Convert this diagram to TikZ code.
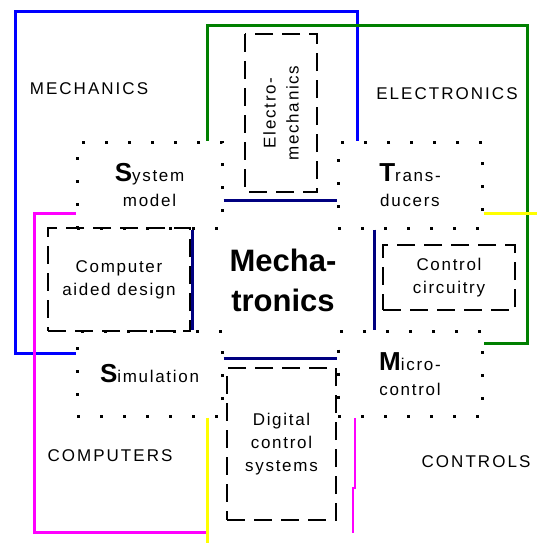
\documentclass[tikz,border=0pt]{standalone}
\usepackage{fontspec}
\setmainfont{Liberation Sans}
\newfontfamily\lsf[LetterSpace=10]{Liberation Sans}
\newfontfamily\capsf[LetterSpace=12]{Liberation Sans}
\newcommand\BigInit[1]{{\normalfont\fontsize{26}{26}\bfseries\selectfont #1}}
\definecolor{bluec}{RGB}{0,0,255}
\definecolor{greenc}{RGB}{0,128,0}
\definecolor{magc}{RGB}{255,0,255}
\definecolor{yelc}{RGB}{255,255,0}
\definecolor{navyc}{RGB}{0,0,128}
\begin{document}
\begin{tikzpicture}[x=1pt,y=-1pt,
  lbl/.style={font=\lsf\fontsize{17}{23}\selectfont, align=center},
  dotbox/.style={draw, line width=3pt, dash pattern=on 3pt off 20pt, inner sep=0pt, lbl},
  dashbox/.style={draw, line width=1.8pt, dash pattern=on 18pt off 9pt, inner sep=0pt, lbl},
  area/.style={font=\capsf\fontsize{17}{17}\selectfont, anchor=base},
  colline/.style={line width=3pt, line join=miter},
  navyline/.style={line width=3pt, draw=navyc},
]
\useasboundingbox[fill=white] (0,0) rectangle (537,543);

% helper coordinates
\coordinate (ytop) at (0,200);
\coordinate (ybot) at (0,358);
\coordinate (xl) at (192,0);
\coordinate (xr) at (374,0);
\coordinate (bTR) at (357,12);
\coordinate (bTL) at (15,12);
\coordinate (bBL) at (15,353);
\coordinate (gTL) at (207,26);
\coordinate (gTR) at (527,26);
\coordinate (gBR) at (527,343);
\coordinate (mTL) at (34,213);
\coordinate (mBL) at (34,532);
\coordinate (mBR) at (207,532);
\coordinate (yR) at (537,213);
\coordinate (yB) at (207,543);
\coordinate (pm1) at (355,488);
\coordinate (pm2) at (353,488);
\coordinate (pm3) at (353,533);

% dashed boxes
\node[dashbox, rotate=90, minimum width=158pt, minimum height=72pt] (electro) at (281,113) {Electro-\\mechanics};
\node[dashbox, minimum width=142pt, minimum height=103pt] (cad) at (119,279.5) {Computer\\aided design};
\node[dashbox, minimum width=132pt, minimum height=65pt] (ctrl) at (449,277.5) {Control\\circuitry};
\node[dashbox, minimum width=109pt, minimum height=152pt] (dcs) at (281.5,444) {Digital\\control\\systems};

% dotted boxes
\node[dotbox, minimum width=145pt, minimum height=86pt] (sys) at (149.5,185) {\BigInit{S}ystem\\[2pt]model};
\node[dotbox, minimum width=144pt, minimum height=86pt] (trans) at (410,185) {\BigInit{T}rans-\\[2pt]ducers};
\node[dotbox, minimum width=145pt, minimum height=85pt] (sim) at (149.5,373.5) {\BigInit{S}imulation};
\node[dotbox, minimum width=144pt, minimum height=85pt] (micro) at (410,374) {\BigInit{M}icro-\\[2pt]control};

% center
\node[font=\fontsize{31}{40}\bfseries\selectfont, align=center] (mech) at (283,280) {Mecha-\\tronics};

% area labels
\node[area] (lmech) at (89,94) {MECHANICS};
\node[area] (lelec) at (447,99) {ELECTRONICS};
\node[area] (lcomp) at (110,461) {COMPUTERS};
\node[area] (lctrl) at (476,467) {CONTROLS};

% navy connectors
\draw[navyline] (sys.east |- ytop) -- (trans.west |- ytop);
\draw[navyline] (sim.east |- ybot) -- (micro.west |- ybot);
\draw[navyline] (sys.south -| xl) -- (sim.north -| xl);
\draw[navyline] (trans.south -| xr) -- (micro.north -| xr);

% coloured area lines
\draw[colline, bluec] (trans.north -| bTR) -- (bTR) -- (bTL) -- (bBL) -- (sim.west |- bBL);
\draw[colline, greenc] (sys.north -| gTL) -- (gTL) -- (gTR) -- (gBR) -- (micro.east |- gBR);
\draw[colline, magc] (sys.west |- mTL) -- (mTL) -- (mBL) -- (mBR);
\draw[colline, yelc] (trans.east |- yR) -- (yR);
\draw[colline, yelc] (sim.south -| yB) -- (yB);
\draw[line width=1.6pt, magc] (micro.south -| pm1) -- (pm1) -- (pm2) -- (pm3);
\end{tikzpicture}
\end{document}
